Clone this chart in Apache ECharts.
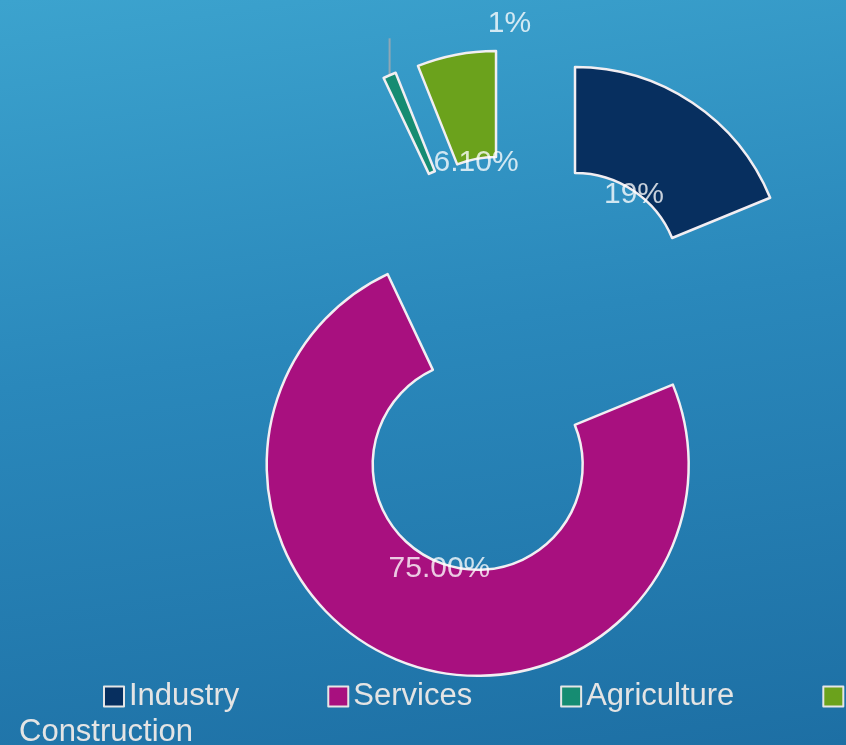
<!DOCTYPE html>
<html>
<head>
<meta charset="utf-8">
<script src="https://cdn.jsdelivr.net/npm/echarts@6/dist/echarts.min.js"></script>
<style>
  html, body { margin: 0; padding: 0; }
  #chart { width: 846px; height: 745px; background: linear-gradient(172deg, #3ca3ce 0%, #2a88bb 45%, #1d6fa4 100%); }
</style>
</head>
<body>
<div id="chart"></div>
<script>
var categories = ['Industry', 'Services', 'Agriculture', 'Construction'];
var values = [19, 75, 1, 6.1];
var valueLabels = ['19%', '75.00%', '1%', '6.10%'];
var colors = ['#072f5f', '#a8107f', '#168c72', '#6ba21c'];

var chart = echarts.init(document.getElementById('chart'), null, { renderer: 'canvas' });

var ringData = categories.map(function (c, i) {
  var item = { name: c, value: values[i], selected: true, itemStyle: { color: colors[i] } };
  if (i === 2) {
    item.labelLine = { show: true, length: 38, length2: 0, lineStyle: { color: '#8fa7b5', width: 2 } };
    item.label = { show: true, position: 'outside', formatter: ' ', color: 'rgba(0,0,0,0)' };
  }
  return item;
});
var labelData = categories.map(function (c, i) {
  return { name: c, value: values[i], selected: true };
});

var FONT = "'Liberation Sans', Arial, sans-serif";

chart.setOption({
  animation: false,
  backgroundColor: 'transparent',
  color: colors,
  legend: [{
    data: categories,
    left: 103,
    top: 681,
    width: 743,
    padding: 0,
    itemWidth: 20,
    itemHeight: 20,
    itemGap: 88,
    icon: 'rect',
    itemStyle: { borderColor: '#e6e6e6', borderWidth: 2 },
    textStyle: { color: '#e4e4e4', fontSize: 31, fontFamily: FONT },
    formatter: function (n) { return n === 'Construction' ? '' : n; }
  }, {
    data: ['Construction'],
    left: 13,
    top: 717,
    padding: 0,
    itemWidth: 0,
    itemHeight: 0,
    itemStyle: { opacity: 0 },
    textStyle: { color: '#e4e4e4', fontSize: 31, fontFamily: FONT }
  }],
  series: [{
    type: 'pie',
    name: 'ring',
    z: 2,
    center: [516, 366],
    radius: [105, 211],
    startAngle: 90,
    clockwise: true,
    selectedMode: 'multiple',
    selectedOffset: 106,
    avoidLabelOverlap: false,
    itemStyle: { borderColor: '#f2eef2', borderWidth: 2.5 },
    label: { show: false },
    labelLine: { show: false },
    emphasis: { scale: false },
    data: ringData,
    labelLayout: function (p) {
      var pts = p.labelLinePoints;
      if (!pts || !pts.length) return {};
      var s = pts[0];
      return { labelLinePoints: [[s[0], s[1] + 3], [s[0], s[1] - 37], [s[0], s[1] - 37]] };
    }
  }, {
    type: 'pie',
    name: 'labels',
    z: 5,
    center: [516, 366],
    radius: [0, 206],
    startAngle: 90,
    clockwise: true,
    selectedMode: 'multiple',
    selectedOffset: 106,
    silent: true,
    avoidLabelOverlap: false,
    itemStyle: { color: 'rgba(0,0,0,0)', borderWidth: 0 },
    label: {
      show: true,
      position: 'inside',
      color: 'rgba(255,255,255,0.78)',
      fontSize: 30,
      fontFamily: FONT,
      formatter: function (p) { return valueLabels[p.dataIndex]; }
    },
    labelLine: { show: false },
    emphasis: { disabled: true },
    data: labelData,
    labelLayout: function (p) {
      if (p.dataIndex === 2) return { dx: 78, dy: -148 };
      return { dy: 5 };
    }
  }]
});
</script>
</body>
</html>
